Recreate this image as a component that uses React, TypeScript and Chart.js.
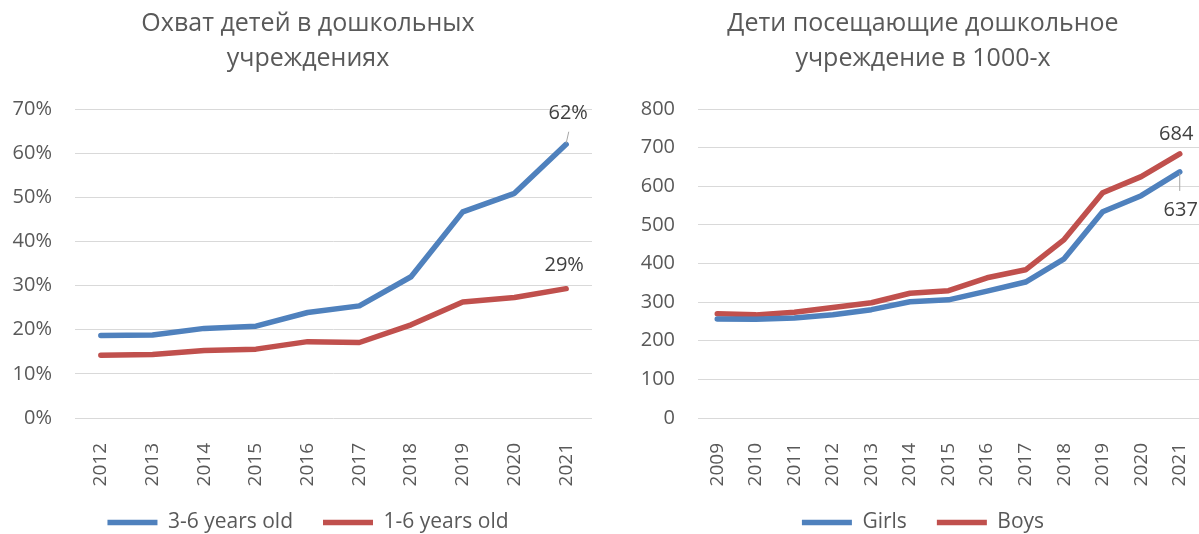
import React, { useEffect, useRef } from 'react';
import { Chart, registerables } from 'chart.js';

Chart.register(...registerables);

const FONT = '"Open Sans", "Noto Sans", sans-serif';
const TEXT = '#595959';
const LABEL_TEXT = '#404040';
const GRID = '#D9D9D9';
const BLUE = '#4F81BD';
const RED = '#C0504D';
const CANVAS_H = 543;

// Left chart: coverage of children in preschool institutions (%)
const coverageYears = ['2012', '2013', '2014', '2015', '2016', '2017', '2018', '2019', '2020', '2021'];
const age3to6 = [18.7, 18.8, 20.3, 20.8, 23.9, 25.4, 32.0, 46.7, 50.9, 62.0];
const age1to6 = [14.2, 14.4, 15.3, 15.6, 17.3, 17.1, 21.1, 26.3, 27.3, 29.3];
const coverageTitle = ['Охват детей в дошкольных', 'учреждениях'];
const coverageSeriesNames = ['3-6 years old', '1-6 years old'];

// Right chart: children attending preschool, thousands
const attendanceYears = ['2009', '2010', '2011', '2012', '2013', '2014', '2015', '2016', '2017', '2018', '2019', '2020', '2021'];
const girls = [256, 255.5, 259, 267.5, 280.5, 301, 306, 328.6, 352, 412, 534, 575.5, 637];
const boys = [270, 267, 274, 286, 298.5, 323, 329.5, 363, 383.7, 462, 583, 625, 684];
const attendanceTitle = ['Дети посещающие дошкольное', 'учреждение в 1000-х'];
const attendanceSeriesNames = ['Girls', 'Boys'];

type EndLabel = {
  dataset: number;
  suffix: string;
  dx: number;
  dy: number;
  leader?: [number, number, number, number];
};

function endLabelPlugin(labels: EndLabel[]) {
  return {
    id: 'endLabels',
    afterDatasetsDraw(chart: any) {
      const ctx = chart.ctx as CanvasRenderingContext2D;
      ctx.save();
      labels.forEach((l) => {
        const meta = chart.getDatasetMeta(l.dataset);
        const data = chart.data.datasets[l.dataset].data as number[];
        const idx = data.length - 1;
        const pt = meta.data[idx];
        const x = pt.x;
        const y = pt.y;
        if (l.leader) {
          ctx.strokeStyle = '#A6A6A6';
          ctx.lineWidth = 1;
          ctx.beginPath();
          ctx.moveTo(x + l.leader[0], y + l.leader[1]);
          ctx.lineTo(x + l.leader[2], y + l.leader[3]);
          ctx.stroke();
        }
        ctx.fillStyle = LABEL_TEXT;
        ctx.font = `20px ${FONT}`;
        ctx.textAlign = 'center';
        ctx.textBaseline = 'middle';
        ctx.fillText(Math.round(data[idx]) + l.suffix, x + l.dx, y + l.dy);
      });
      ctx.restore();
    },
  };
}

function buildConfig(
  labels: string[],
  names: string[],
  series: number[][],
  title: string[],
  yMax: number,
  yStep: number,
  ySuffix: string,
  padLeft: number,
  padRight: number,
  endLabels: EndLabel[]
): any {
  const colors = [BLUE, RED];
  return {
    type: 'line',
    data: {
      labels,
      datasets: series.map((values, i) => ({
        label: names[i],
        data: values,
        borderColor: colors[i],
        backgroundColor: colors[i],
        borderWidth: 5.5,
        borderCapStyle: 'round',
        borderJoinStyle: 'round',
        pointRadius: 0,
        pointHoverRadius: 0,
        tension: 0,
        fill: false,
      })),
    },
    options: {
      responsive: false,
      animation: false,
      devicePixelRatio: 1,
      events: [],
      layout: { padding: { left: padLeft, right: padRight, top: 0, bottom: 0 } },
      plugins: {
        tooltip: { enabled: false },
        title: {
          display: true,
          text: title,
          color: TEXT,
          font: { family: FONT, size: 25, weight: 'normal', lineHeight: 1.4 },
          padding: { top: 6.5, bottom: 32.5 },
        },
        legend: {
          display: true,
          position: 'bottom',
          labels: {
            usePointStyle: true,
            pointStyle: 'line',
            pointStyleWidth: 50,
            color: TEXT,
            font: { family: FONT, size: 21 },
            padding: 30,
          },
        },
      },
      scales: {
        x: {
          type: 'category',
          offset: true,
          grid: { display: false },
          border: { display: false },
          ticks: {
            color: TEXT,
            font: { family: FONT, size: 19 },
            minRotation: 90,
            maxRotation: 90,
            autoSkip: false,
            padding: 17,
          },
          afterFit: (s: any) => {
            s.height = 64;
            s.paddingLeft = 0;
            s.paddingRight = 0;
            s._computeLabelArea = () => undefined;
          },
        },
        y: {
          min: 0,
          max: yMax,
          grid: { color: GRID, lineWidth: 1, drawTicks: false },
          border: { display: false },
          ticks: {
            stepSize: yStep,
            color: TEXT,
            font: { family: FONT, size: 20 },
            padding: 23,
            callback: (v: any) => v + ySuffix,
          },
          afterFit: (s: any) => {
            s.width = 51;
            // let tick labels extend into the layout padding instead of being clipped
            s._computeLabelArea = () => undefined;
          },
        },
      },
    },
    plugins: [endLabelPlugin(endLabels)],
  };
}

function LineChart({ left, width, makeConfig }: { left: number; width: number; makeConfig: () => any }) {
  const ref = useRef<HTMLCanvasElement>(null);
  useEffect(() => {
    const chart = new Chart(ref.current as HTMLCanvasElement, makeConfig());
    return () => chart.destroy();
  }, []);
  return (
    <div style={{ position: 'absolute', left, top: 0, width, height: CANVAS_H }}>
      <canvas ref={ref} width={width} height={CANVAS_H} style={{ display: 'block', width, height: CANVAS_H }} />
    </div>
  );
}

export default function App() {
  return (
    <div
      style={{
        position: 'fixed',
        left: 0,
        top: 0,
        width: 1199,
        height: 534,
        overflow: 'hidden',
        background: '#FFFFFF',
      }}
    >
      <LineChart
        left={0}
        width={600}
        makeConfig={() =>
          buildConfig(coverageYears, coverageSeriesNames, [age3to6, age1to6], coverageTitle, 70, 10, '%', 24, 8, [
            { dataset: 0, suffix: '%', dx: 2, dy: -31, leader: [0, -1, 2.6, -12.6] },
            { dataset: 1, suffix: '%', dx: -2, dy: -23.5 },
          ])
        }
      />
      <LineChart
        left={600}
        width={599}
        makeConfig={() =>
          buildConfig(attendanceYears, attendanceSeriesNames, [girls, boys], attendanceTitle, 800, 100, '', 47, 0, [
            { dataset: 1, suffix: '', dx: -3.5, dy: -20 },
            { dataset: 0, suffix: '', dx: 1, dy: 38.5, leader: [0, 1, 0, 19] },
          ])
        }
      />
    </div>
  );
}
